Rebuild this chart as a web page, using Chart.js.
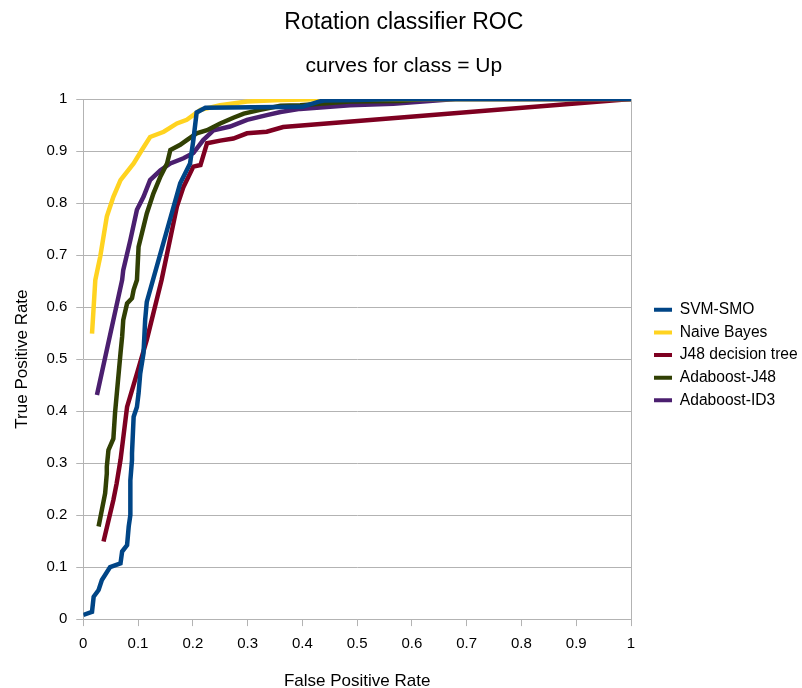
<!DOCTYPE html>
<html lang="en">
<head>
  <meta charset="UTF-8" />
  <title>Rotation classifier ROC</title>
  <script src="https://cdn.jsdelivr.net/npm/chart.js"></script>
  <style>
    html, body { margin: 0; padding: 0; background: #ffffff; }
    #wrap { width: 802px; height: 688px; }
  </style>
</head>
<body>
  <div id="wrap"><canvas id="roc"></canvas></div>

  <script>
    const xTicks = [0, 0.1, 0.2, 0.3, 0.4, 0.5, 0.6, 0.7, 0.8, 0.9, 1];
    const yTicks = [0, 0.1, 0.2, 0.3, 0.4, 0.5, 0.6, 0.7, 0.8, 0.9, 1];

    const seriesNames = ['SVM-SMO', 'Naive Bayes', 'J48 decision tree', 'Adaboost-J48', 'Adaboost-ID3'];
    const seriesColors = ['#004586', '#ffd320', '#7e0021', '#314004', '#4b1f6f'];

    // false positive rate / true positive rate
    const svmFpr = [0, 0.016, 0.019, 0.028, 0.034, 0.049, 0.068, 0.071, 0.080, 0.083, 0.086, 0.086, 0.089, 0.089, 0.092, 0.098, 0.101, 0.104, 0.110, 0.113, 0.116, 0.177, 0.195, 0.201, 0.207, 0.223, 0.40, 0.43, 0.44, 0.50, 0.57, 1];
    const svmTpr = [0.008, 0.014, 0.043, 0.056, 0.075, 0.100, 0.107, 0.130, 0.142, 0.178, 0.200, 0.267, 0.306, 0.319, 0.389, 0.408, 0.434, 0.472, 0.511, 0.575, 0.610, 0.838, 0.876, 0.921, 0.974, 0.983, 0.985, 0.995, 0.997, 0.998, 1, 1];

    const nbFpr = [0.016, 0.019, 0.022, 0.031, 0.043, 0.055, 0.068, 0.092, 0.107, 0.122, 0.147, 0.171, 0.189, 0.214, 0.25, 0.299, 0.36, 0.445, 1];
    const nbTpr = [0.549, 0.600, 0.652, 0.697, 0.774, 0.812, 0.844, 0.876, 0.902, 0.927, 0.937, 0.953, 0.960, 0.979, 0.988, 0.995, 0.998, 1, 1];

    const j48Fpr = [0.037, 0.055, 0.061, 0.068, 0.080, 0.098, 0.116, 0.143, 0.171, 0.183, 0.201, 0.214, 0.226, 0.25, 0.274, 0.299, 0.335, 0.365, 1];
    const j48Tpr = [0.149, 0.229, 0.261, 0.306, 0.408, 0.472, 0.537, 0.652, 0.793, 0.831, 0.870, 0.873, 0.915, 0.920, 0.924, 0.934, 0.937, 0.946, 1];

    const adaJ48Fpr = [0.028, 0.034, 0.040, 0.043, 0.043, 0.046, 0.055, 0.058, 0.068, 0.071, 0.073, 0.080, 0.089, 0.092, 0.098, 0.101, 0.116, 0.128, 0.141, 0.153, 0.159, 0.177, 0.189, 0.207, 0.226, 0.25, 0.274, 0.293, 0.323, 0.36, 0.396, 0.487, 0.578, 0.62, 1];
    const adaJ48Tpr = [0.178, 0.210, 0.242, 0.280, 0.293, 0.325, 0.347, 0.396, 0.511, 0.543, 0.575, 0.607, 0.617, 0.633, 0.652, 0.716, 0.780, 0.818, 0.851, 0.876, 0.902, 0.912, 0.921, 0.934, 0.940, 0.953, 0.964, 0.972, 0.979, 0.987, 0.988, 0.995, 0.996, 1, 1];

    const adaId3Fpr = [0.025, 0.071, 0.073, 0.086, 0.098, 0.110, 0.122, 0.141, 0.159, 0.183, 0.201, 0.219, 0.238, 0.268, 0.299, 0.335, 0.36, 0.396, 0.487, 0.566, 0.68, 1];
    const adaId3Tpr = [0.431, 0.652, 0.671, 0.729, 0.787, 0.812, 0.844, 0.863, 0.876, 0.886, 0.896, 0.921, 0.940, 0.947, 0.960, 0.969, 0.975, 0.981, 0.988, 0.991, 1, 1];

    const fprs = [svmFpr, nbFpr, j48Fpr, adaJ48Fpr, adaId3Fpr];
    const tprs = [svmTpr, nbTpr, j48Tpr, adaJ48Tpr, adaId3Tpr];

    const gridGray = '#b3b3b3';
    Chart.defaults.font.family = '"Liberation Sans", Arial, sans-serif';
    Chart.defaults.color = '#000000';

    const datasets = seriesNames.map((name, i) => ({
      label: name,
      data: fprs[i].map((x, j) => ({ x, y: tprs[i][j] })),
      borderColor: seriesColors[i],
      backgroundColor: seriesColors[i],
      borderWidth: 4.5,
      pointRadius: 0,
      tension: 0,
      fill: false
    }));

    // nudge the legend away from the plot and the titles a bit to the right,
    // like the office chart this was exported from
    const nudgeBoxes = {
      id: 'nudgeBoxes',
      afterLayout(chart) {
        chart.boxes.forEach(box => {
          if (box === chart.legend) {
            box.left += 16;
            box.right += 16;
            box.top -= 4;
            box.bottom -= 4;
          } else if (box.options && typeof box.options.text === 'string') {
            box.left += 6;
            box.right += 6;
          }
        });
      }
    };

    new Chart(document.getElementById('roc'), {
      type: 'line',
      data: { datasets },
      plugins: [nudgeBoxes],
      options: {
        responsive: true,
        maintainAspectRatio: false,
        animation: false,
        layout: { padding: { left: 4, right: 10.3, top: 0, bottom: 0 } },
        plugins: {
          title: {
            display: true,
            text: 'Rotation classifier ROC',
            font: { size: 23, weight: 'normal' },
            padding: { top: 9, bottom: 0 }
          },
          subtitle: {
            display: true,
            text: 'curves for class = Up',
            font: { size: 21, weight: 'normal' },
            color: '#000000',
            padding: { top: 16.8, bottom: 20.4 }
          },
          legend: {
            position: 'right',
            fullSize: false,
            labels: {
              boxWidth: 18,
              boxHeight: 4,
              padding: 7,
              font: { size: 15.6 },
              generateLabels: (chart) =>
                Chart.defaults.plugins.legend.labels.generateLabels(chart).map(l => ({ ...l, lineWidth: 0 }))
            }
          },
          tooltip: { enabled: false }
        },
        scales: {
          x: {
            type: 'linear',
            min: 0,
            max: 1,
            afterBuildTicks: (axis) => { axis.ticks = xTicks.map(v => ({ value: v })); },
            ticks: { font: { size: 15 }, padding: 8.5, maxRotation: 0, callback: (v) => String(v) },
            grid: {
              color: (ctx) => (ctx.tick && ctx.tick.value === 1 ? gridGray : 'rgba(0,0,0,0)'),
              tickColor: gridGray,
              tickLength: 7
            },
            border: { color: gridGray },
            title: {
              display: true,
              text: 'False Positive Rate',
              font: { size: 17 },
              padding: { top: 10.5, bottom: -4 }
            }
          },
          y: {
            type: 'linear',
            min: 0,
            max: 1,
            afterBuildTicks: (axis) => { axis.ticks = yTicks.map(v => ({ value: v })); },
            ticks: { font: { size: 15 }, padding: 9, callback: (v) => String(v) },
            grid: { color: gridGray, tickColor: gridGray, tickLength: 7 },
            border: { color: gridGray },
            title: {
              display: true,
              text: 'True Positive Rate',
              font: { size: 17 },
              padding: { top: 8, bottom: 5 }
            }
          }
        }
      }
    });
  </script>
</body>
</html>
